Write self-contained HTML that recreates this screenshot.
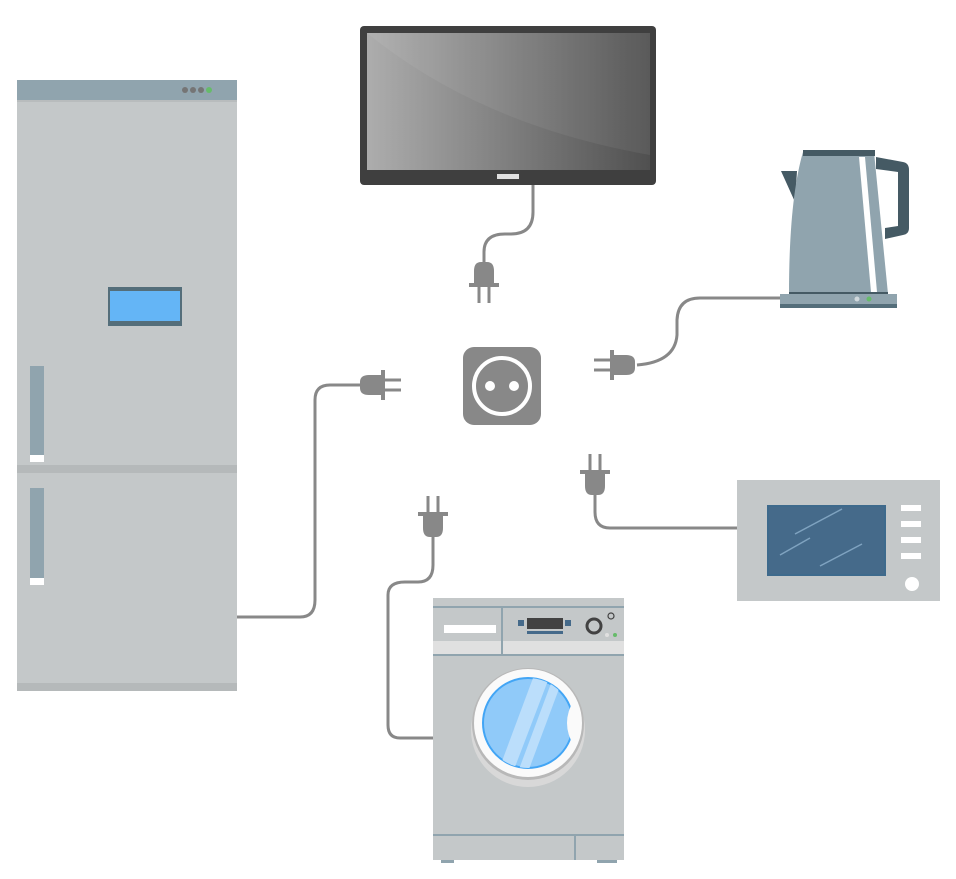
<!DOCTYPE html>
<html><head><meta charset="utf-8"><style>html,body{margin:0;padding:0;background:#fff}svg{display:block}</style></head>
<body>
<svg width="956" height="879" viewBox="0 0 956 879" xmlns="http://www.w3.org/2000/svg">
<defs>
<linearGradient id="scr" x1="0" y1="0" x2="1" y2="0">
<stop offset="0" stop-color="#adadad"/><stop offset="1" stop-color="#505050"/>
</linearGradient>
<g id="plug">
<path d="M22,-10 L9,-10 Q0,-10 0,-3 V3 Q0,10 9,10 L22,10 Z" fill="#888"/>
<rect x="21" y="-15" width="4" height="30" fill="#888"/>
<rect x="25" y="-6.5" width="16" height="3" fill="#888"/>
<rect x="25" y="3.5" width="16" height="3" fill="#888"/>
</g>
</defs>

<!-- cords -->
<g fill="none" stroke="#888" stroke-width="3">
<path d="M533 185 V212 Q533 234 511 234 H505 Q484 234 484 252 V264"/>
<path d="M780 298 H700 Q678 298 677 320 V335 Q675 362 637 365"/>
<path d="M237 617 H300 Q315 617 315 600 V400 Q315 385 330 385 H362"/>
<path d="M737 528 H610 Q595 528 595 512 V493"/>
<path d="M433 738 H400 Q388 738 388 725 V595 Q388 582 405 582 H418 Q433 582 433 565 V535"/>
</g>
<use href="#plug" transform="translate(484,262) rotate(90)"/>
<use href="#plug" transform="translate(635,365) rotate(180)"/>
<use href="#plug" transform="translate(360,385)"/>
<use href="#plug" transform="translate(595,495) rotate(-90)"/>
<use href="#plug" transform="translate(433,537) rotate(-90)"/>

<!-- socket -->
<rect x="463" y="347" width="78" height="78" rx="11" fill="#888"/>
<circle cx="502" cy="386" r="28" fill="none" stroke="#fff" stroke-width="4"/>
<circle cx="490" cy="386" r="5" fill="#fff"/>
<circle cx="514" cy="386" r="5" fill="#fff"/>

<!-- fridge -->
<rect x="17" y="80" width="220" height="611" fill="#c4c8c9"/>
<rect x="17" y="80" width="220" height="20" fill="#90a4ae"/>
<rect x="17" y="100" width="220" height="2" fill="#b8bcbd"/>
<circle cx="185" cy="90" r="3" fill="#757575"/><circle cx="193" cy="90" r="3" fill="#757575"/><circle cx="201" cy="90" r="3" fill="#757575"/><circle cx="209" cy="90" r="3" fill="#66bb6a"/>
<rect x="108" y="287" width="74" height="39" fill="#546e7a"/>
<rect x="110" y="291" width="70" height="30" fill="#64b5f6"/>
<rect x="17" y="465" width="220" height="8" fill="#b5b9ba"/>
<rect x="17" y="683" width="220" height="8" fill="#b5b9ba"/>
<rect x="30" y="366" width="14" height="96" fill="#90a4ae"/><rect x="30" y="455" width="14" height="7" fill="#fff"/>
<rect x="30" y="488" width="14" height="97" fill="#90a4ae"/><rect x="30" y="578" width="14" height="7" fill="#fff"/>

<!-- TV -->
<rect x="360" y="26" width="296" height="159" rx="4" fill="#3f3f3f"/>
<rect x="367" y="33" width="283" height="137" fill="url(#scr)"/>
<path d="M367 33 H650 V155 Q480 125 367 33 Z" fill="#fff" opacity="0.06"/>
<rect x="497" y="174" width="22" height="5" fill="#e0e0e0"/>

<!-- kettle -->
<path d="M781 171 L797 171 L795 202 Z" fill="#455a64"/>
<path d="M876 157 L903 162 Q909 163 909 170 V228 Q909 234 903 235 L885 239 V228 L898 226 V172 L876 169 Z" fill="#455a64"/>
<path d="M803 152 H874 L888 294 H789 Q789 200 803 152 Z" fill="#90a4ae"/>
<rect x="803" y="150" width="72" height="6" fill="#455a64"/>
<path d="M859 157 H865 L877 292 H871 Z" fill="#fff"/>
<rect x="789" y="292" width="99" height="2" fill="#455a64"/>
<rect x="780" y="294" width="117" height="14" fill="#90a4ae"/>
<rect x="780" y="304" width="117" height="4" fill="#546e7a"/>
<circle cx="857" cy="299" r="2.5" fill="#cfd8dc"/><circle cx="869" cy="299" r="2.5" fill="#66bb6a"/>

<!-- microwave -->
<rect x="737" y="480" width="203" height="121" fill="#c4c8c9"/>
<rect x="767" y="505" width="119" height="71" fill="#3e6a8c"/>
<rect x="769" y="507" width="115" height="67" fill="#456a8a"/>
<g stroke="#7fa3c0" stroke-width="1.5"><line x1="780" y1="555" x2="810" y2="538"/><line x1="795" y1="534" x2="842" y2="509"/><line x1="820" y1="566" x2="862" y2="544"/></g>
<rect x="901" y="505" width="20" height="6" fill="#fff"/><rect x="901" y="521" width="20" height="6" fill="#fff"/><rect x="901" y="537" width="20" height="6" fill="#fff"/><rect x="901" y="553" width="20" height="6" fill="#fff"/>
<circle cx="912" cy="584" r="7" fill="#fff"/>

<!-- washer -->
<rect x="433" y="598" width="191" height="262" fill="#c4c8c9"/>
<rect x="433" y="606" width="191" height="2" fill="#90a4ae"/>
<rect x="433" y="641" width="191" height="13" fill="#e0e0e0"/>
<rect x="433" y="654" width="191" height="2" fill="#90a4ae"/>
<rect x="501" y="608" width="2" height="46" fill="#90a4ae"/>
<rect x="444" y="625" width="52" height="8" fill="#fff"/>
<rect x="527" y="618" width="36" height="11" fill="#424242"/>
<rect x="518" y="620" width="6" height="6" fill="#456a8a"/><rect x="565" y="620" width="6" height="6" fill="#456a8a"/>
<rect x="527" y="631" width="36" height="3" fill="#456a8a"/>
<circle cx="594" cy="626" r="7" fill="none" stroke="#424242" stroke-width="3"/>
<circle cx="611" cy="616" r="3" fill="none" stroke="#424242" stroke-width="1.2"/>
<circle cx="607" cy="635" r="2" fill="#e0e0e0"/><circle cx="615" cy="635" r="2" fill="#66bb6a"/>
<circle cx="528" cy="730" r="57" fill="#d8d8d8"/>
<circle cx="528" cy="724" r="56" fill="#b8b8b8"/>
<circle cx="528" cy="723" r="54" fill="#fafafa"/>
<clipPath id="gl"><circle cx="528" cy="723" r="45"/></clipPath>
<circle cx="528" cy="723" r="45" fill="#90caf9" stroke="#42a5f5" stroke-width="2"/>
<g clip-path="url(#gl)" fill="#bbdefb"><path d="M536 670 L552 670 L510 780 L495 780 Z"/><path d="M556 670 L566 670 L525 780 L515 780 Z"/></g>
<path d="M574 700 Q560 723 574 746 Q585 723 574 700 Z" fill="#fafafa"/>
<rect x="433" y="834" width="191" height="2" fill="#90a4ae"/>
<rect x="574" y="836" width="2" height="24" fill="#90a4ae"/>
<rect x="441" y="860" width="13" height="3" fill="#90a4ae"/><rect x="597" y="860" width="20" height="3" fill="#90a4ae"/>
</svg>
</body></html>
